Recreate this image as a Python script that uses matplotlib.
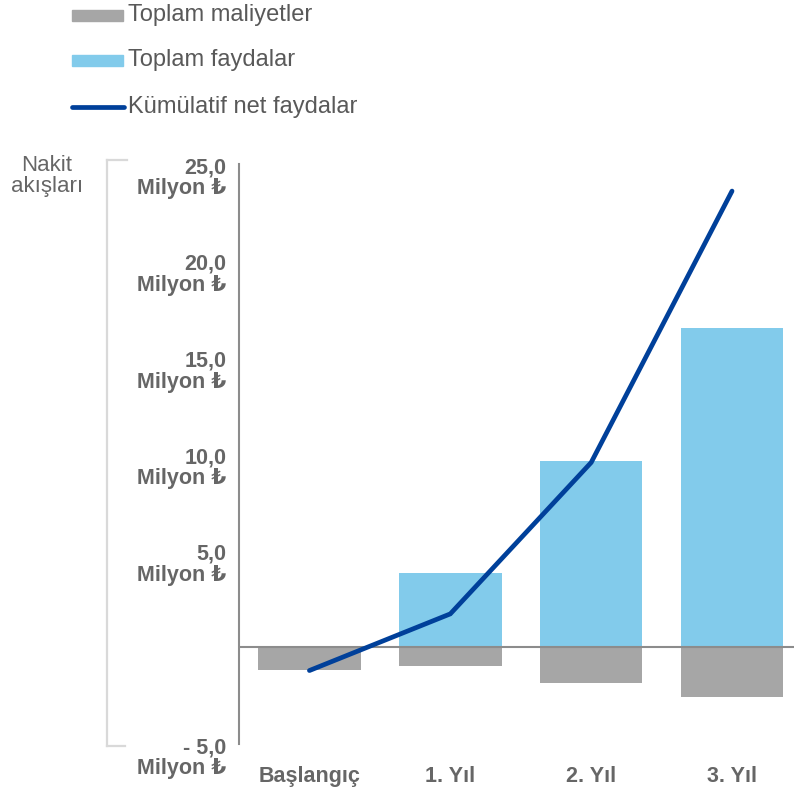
import matplotlib
matplotlib.use("Agg")
import matplotlib.pyplot as plt
from matplotlib.patches import Rectangle
from matplotlib.lines import Line2D
from matplotlib.transforms import ScaledTranslation

plt.rcParams['font.family'] = ['Liberation Sans', 'DejaVu Sans']

categories = ["Başlangıç", "1. Yıl", "2. Yıl", "3. Yıl"]
costs = [-1.15, -0.99, -1.85, -2.58]
benefits = [0.0, 3.84, 9.66, 16.53]
cumulative = [-1.2, 1.73, 9.56, 23.6]
ytick_values = [-5, 5, 10, 15, 20, 25]
ytick_labels = ["- 5,0\nMilyon ₺", "5,0\nMilyon ₺", "10,0\nMilyon ₺",
                "15,0\nMilyon ₺", "20,0\nMilyon ₺", "25,0\nMilyon ₺"]
legend_labels = ["Toplam maliyetler", "Toplam faydalar", "Kümülatif net faydalar"]
axis_title = "Nakit\nakışları"

W, H = 794, 792
fig = plt.figure(figsize=(W / 100, H / 100), dpi=100)
ax = fig.add_axes([239 / W, 1 - 744 / H, (794 - 239) / W, (744 - 164) / H])

GRAY = "#A6A6A6"
LBLUE = "#82CBEB"
DBLUE = "#00409A"
TXT = "#666666"

x = list(range(len(categories)))
ax.bar(x, costs, width=0.728, color=GRAY, zorder=2)
ax.bar(x, benefits, width=0.728, color=LBLUE, zorder=2)
ax.axhline(0, color="#8C8C8C", lw=1.5, zorder=3)
ax.plot(x, cumulative, color=DBLUE, lw=3.4, solid_capstyle="round",
        solid_joinstyle="miter", zorder=4)

ax.set_xlim(-0.5, 3.44)
ax.set_ylim(-5, 25)
for s in ["top", "right", "bottom"]:
    ax.spines[s].set_visible(False)
ax.spines["left"].set_color("#8C8C8C")
ax.spines["left"].set_linewidth(1.5)

ax.set_yticks(ytick_values)
ax.set_yticklabels(ytick_labels, fontsize=15.5, fontweight="bold", color=TXT,
                   linespacing=1.02)
ax.tick_params(axis="y", length=0, pad=9)
off = ScaledTranslation(0, 5 / 72, fig.dpi_scale_trans)
for lab in ax.get_yticklabels():
    lab.set_va("top")
    lab.set_transform(lab.get_transform() + off)

ax.set_xticks(x)
ax.set_xticklabels(categories, fontsize=15.5, fontweight="bold", color=TXT)
ax.tick_params(axis="x", length=0, pad=16)

# bracket on the left
br = "#D9D9D9"
fig.add_artist(Line2D([107 / W, 107 / W], [1 - 160 / H, 1 - 746 / H], color=br, lw=1.6))
fig.add_artist(Line2D([107 / W, 127 / W], [1 - 160 / H, 1 - 160 / H], color=br, lw=1.6))
fig.add_artist(Line2D([107 / W, 125 / W], [1 - 746 / H, 1 - 746 / H], color=br, lw=1.6))
fig.text(47 / W, 1 - 176 / H, axis_title, ha="center", va="center",
         fontsize=16, color=TXT, linespacing=1.0)

# legend
rows = [15, 60, 107]
fig.add_artist(Rectangle((72 / W, 1 - 20.5 / H), 51 / W, 11 / H,
                         color=GRAY, transform=fig.transFigure))
fig.add_artist(Rectangle((72 / W, 1 - 65.5 / H), 51 / W, 11 / H,
                         color=LBLUE, transform=fig.transFigure))
fig.add_artist(Line2D([72 / W, 124 / W], [1 - 107 / H, 1 - 107 / H], color=DBLUE,
                      lw=3.4, solid_capstyle="round"))
for r, t in zip(rows, legend_labels):
    fig.text(128 / W, 1 - r / H, t, ha="left", va="center", fontsize=17,
             color="#595959")

fig.savefig("out.png", dpi=100)
